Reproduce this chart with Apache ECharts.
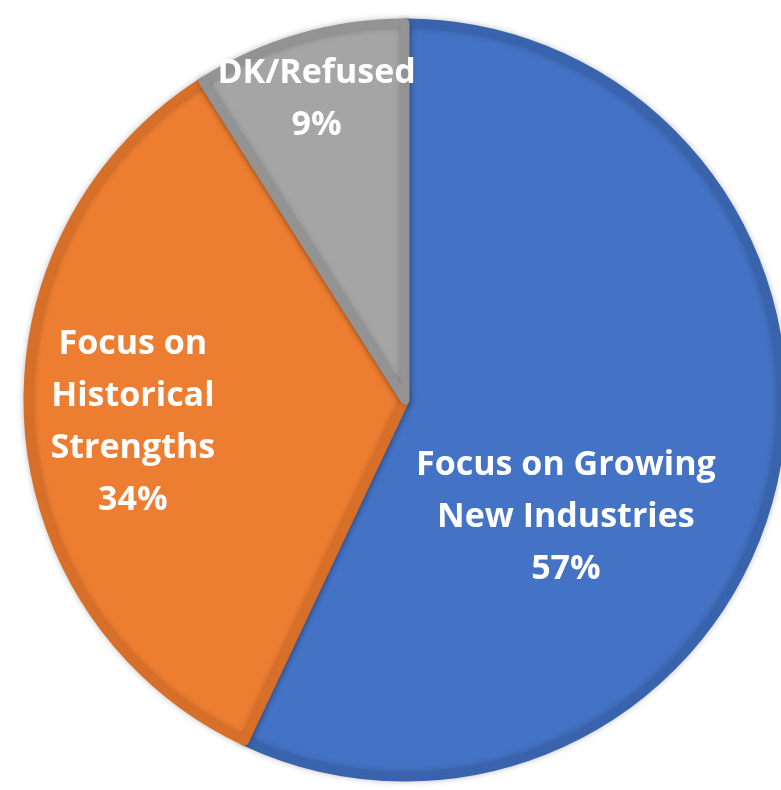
<!DOCTYPE html>
<html>
<head>
<meta charset="utf-8">
<script src="https://cdn.jsdelivr.net/npm/echarts@6/dist/echarts.min.js"></script>
<style>
  html, body { margin: 0; padding: 0; background: #fff; }
  #main { width: 781px; height: 790px; }
</style>
</head>
<body>
<div id="main"></div>
<script>
// slice names and shares (percent)
const categories = ['Focus on Growing\nNew Industries', 'Focus on\nHistorical\nStrengths', 'DK/Refused'];
const shares = [57, 34, 9];
const fills = ['#4472C4', '#ED7D31', '#A5A5A5'];
const borders = ['#3A63AE', '#D86F29', '#939393'];
// nudges from the default inside label spot
const labelShift = [[-26, 76], [-81, 10], [-35, -117]];

const myChart = echarts.init(document.getElementById('main'));
myChart.setOption({
    animation: false,
    series: [{
        type: 'pie',
        center: [405, 400],
        radius: [0, 377],
        startAngle: 90,
        clockwise: true,
        label: {
            position: 'inside',
            formatter: '{b}\n{c}%',
            color: '#fff',
            fontFamily: 'Open Sans',
            fontWeight: 'bold',
            fontSize: 34,
            lineHeight: 52,
            align: 'center'
        },
        labelLine: { show: false },
        labelLayout: function (params) {
            const s = labelShift[params.dataIndex];
            return { dx: s[0], dy: s[1] };
        },
        data: categories.map(function (name, i) {
            return {
                name: name,
                value: shares[i],
                itemStyle: {
                    color: fills[i],
                    borderColor: borders[i],
                    borderWidth: 9,
                    shadowBlur: 6,
                    shadowColor: 'rgba(0,0,0,0.25)'
                }
            };
        })
    }]
});
</script>
</body>
</html>
